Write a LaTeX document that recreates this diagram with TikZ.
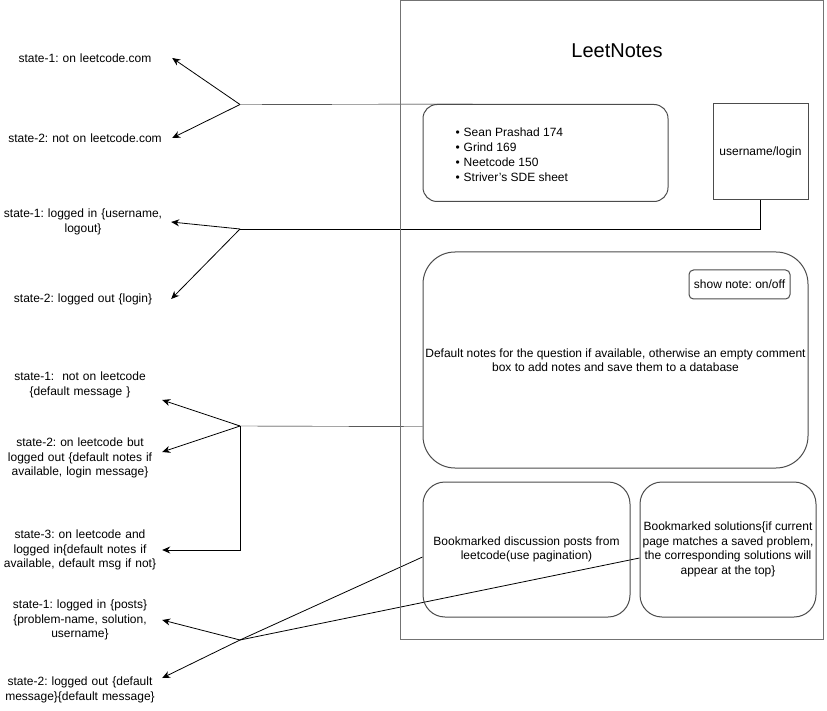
\documentclass[tikz,border=0pt]{standalone}
\usepackage{fontspec}
\setmainfont{Liberation Sans}
\usetikzlibrary{arrows.meta,calc}
\pgfdeclarelayer{bg}
\pgfsetlayers{bg,main}
\frenchspacing
\tikzset{
  box/.style={draw=black!70, line width=1pt, inner sep=0pt},
  state/.style={text width=#1, align=center, inner sep=2pt},
  tip/.style={-{Stealth[length=8pt,width=7pt]}, line width=0.8pt},
}

\begin{document}
\begin{tikzpicture}[x=1pt,y=-1pt,font=\fontsize{12}{14.5}\selectfont]
        \useasboundingbox (0,0) rectangle (827,711);
        \node (app) [box, draw=black!55, minimum width=423pt, minimum height=639pt] at (611.5,320) {};
        \node (title) at (617,51) {\fontsize{20}{24}\selectfont LeetNotes};
        \node (lists) [box, rounded corners=14pt, minimum width=245pt, minimum height=97pt] at (545.5,153) {};
        \node (listtext) [anchor=west, align=left, font=\fontsize{12}{15}\selectfont] at (452,154.5) {\textbullet\hspace{4pt}Sean Prashad 174\\ \textbullet\hspace{4pt}Grind 169\\ \textbullet\hspace{4pt}Neetcode 150\\ \textbullet\hspace{4pt}Striver's SDE sheet};
        \node (login) [box, minimum width=95pt, minimum height=96pt] at (760.5,152) {username/login};
        \node (notes) [box, rounded corners=32pt, minimum width=385pt, minimum height=216pt, align=center] at (615.5,360) {Default notes for the question if available, otherwise an empty comment\\ box to add notes and save them to a database};
        \node (toggle) [box, rounded corners=4.5pt, minimum width=101pt, minimum height=29pt] at (739.5,284.5) {show note: on/off};
        \node (disc) [box, rounded corners=22pt, minimum width=207pt, minimum height=135pt, align=center] at (526.5,549.5) {Bookmarked discussion posts from\\ leetcode(use pagination)};
        \node (sols) [box, rounded corners=22pt, minimum width=176pt, minimum height=135pt, align=center] at (728,549.5) {Bookmarked solutions\{if current\\ page matches a saved problem,\\ the corresponding solutions will\\ appear at the top\}};
        % states on the left
        \node (s11) [state=170pt] at (85,58) {state-1: on leetcode.com};
        \node (s12) [state=170pt] at (85,138) {state-2: not on leetcode.com};
        \node (s21) [state=172pt] at (83,222) {state-1: logged in \{username,\\ logout\}};
        \node (s22) [state=172pt] at (83,299) {state-2: logged out \{login\}};
        \node (s31) [state=160pt] at (80,385) {state-1:\ \ not on leetcode\\ \{default message \}};
        \node (s32) [state=160pt] at (80,458) {state-2: on leetcode but\\ logged out \{default notes if\\ available, login message\}};
        \node (s33) [state=160pt] at (80,550) {state-3: on leetcode and\\ logged in\{default notes if\\ available, default msg if not\}};
        \node (s41) [state=160pt] at (80,620) {state-1: logged in \{posts\}\\ \{problem-name, solution,\\ username\}};
        \node (s42) [state=160pt] at (80,690) {state-2: logged out \{default\\ message\}\{default message\}};
        \coordinate (j1) at (240,104.5);
        \coordinate (j2) at (240,229);
        \coordinate (j3) at (240,426);
        \coordinate (j4) at (240,640);
        \begin{pgfonlayer}{bg}
                \draw ($(lists.north west)+(50,0)$) -- (j1);
                \draw [tip] (j1) -- (s11.east);
                \draw [tip] (j1) -- (s12.east);
                \draw (login.south) |- (j2);
                \draw [tip] (j2) -- (s21.east);
                \draw [tip] (j2) -- (s22.east);
                \draw ($(notes.south west)+(0,-42)$) -- (j3);
                \draw [tip] (j3) -- ([yshift=-15pt]s31.east);
                \draw [tip] (j3) -- ([yshift=6pt]s32.east);
                \draw [tip] (j3) |- (s33.east);
                \draw [tip] ([yshift=-7.5pt]disc.west) -- (j4) -- ([yshift=12pt]s42.east);
                \draw [tip] ([yshift=-8.5pt]sols.west) -- (j4) -- (s41.east);
        \end{pgfonlayer}
\end{tikzpicture}
\end{document}
